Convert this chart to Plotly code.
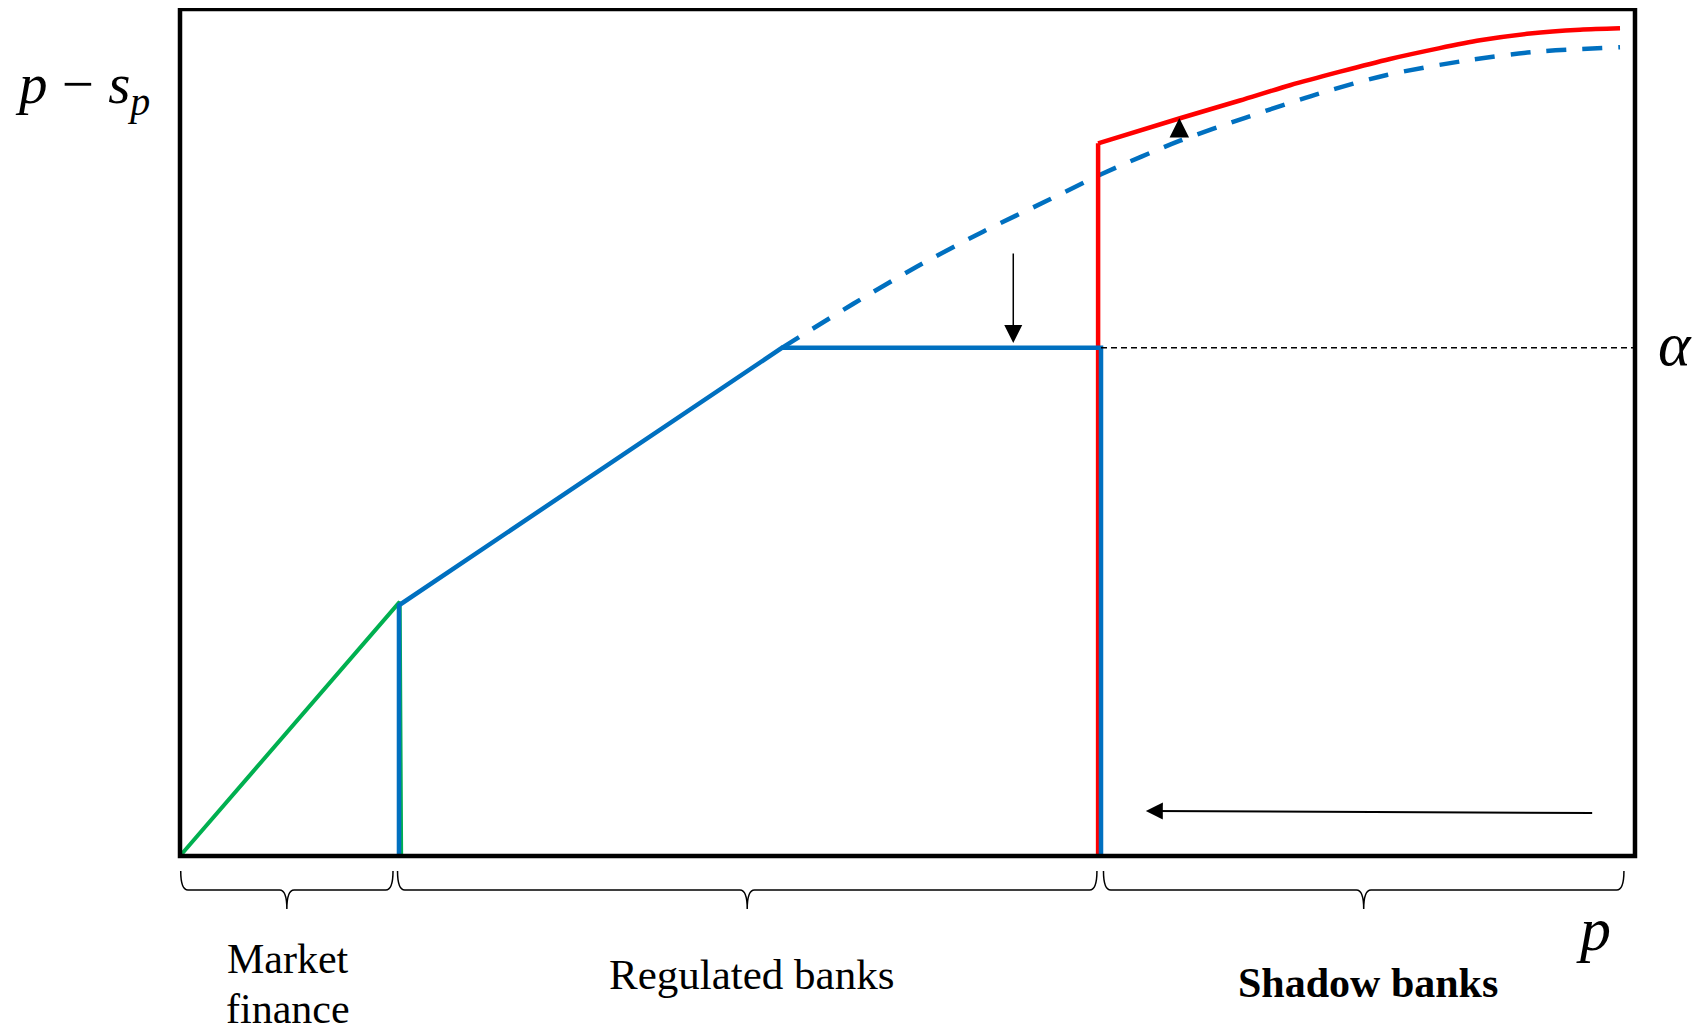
import plotly.graph_objects as go

# ---- data (arbitrary units: p on x, p - s_p on y; the frame spans 0..100) ----
market_x = [0, 15.1, 15.2]
market_y = [0, 30.0, 0]

regulated_x = [15.05, 15.05, 41.37, 63.3, 63.3]
regulated_y = [0, 29.6, 60.0, 60.0, 0]

unconstrained_x = [41.37, 46.25, 50.63, 55.19, 59.79, 63.35, 68.73, 73.31,
                   78.35, 82.94, 88.18, 93.24, 98.97]
unconstrained_y = [60.0, 65.17, 69.57, 73.71, 77.53, 80.52, 84.45, 87.21,
                   90.05, 92.21, 93.86, 94.96, 95.48]

shadow_vert_x = [63.1, 63.1]
shadow_vert_y = [0, 84.14]
shadow_x = [63.1, 68.73, 72.85, 76.29, 79.73, 83.16, 86.5, 89.35, 92.78, 96.22, 98.97]
shadow_y = [84.14, 87.1, 89.2, 91.0, 92.6, 94.1, 95.35, 96.3, 97.1, 97.55, 97.72]

alpha_level = 60.0
alpha_x = [63.3, 100]

segment_spans = [(0.05, 14.64), (14.95, 63.02), (63.47, 99.24)]
segment_labels = ["Market<br>finance", "Regulated banks", "Shadow banks"]

BLUE = "#0070C0"
RED = "#FF0000"
GREEN = "#00B050"
SERIF = "Liberation Serif, Times New Roman, serif"

fig = go.Figure()

fig.add_trace(go.Scatter(x=market_x, y=market_y, mode="lines",
                         line=dict(color=GREEN, width=4), hoverinfo="skip"))
fig.add_trace(go.Scatter(x=unconstrained_x, y=unconstrained_y, mode="lines",
                         line=dict(color=BLUE, width=4.5, dash="20px,16px",
                                   shape="spline", smoothing=0.8),
                         hoverinfo="skip"))
fig.add_trace(go.Scatter(x=shadow_vert_x, y=shadow_vert_y, mode="lines",
                         line=dict(color=RED, width=4.5), hoverinfo="skip"))
fig.add_trace(go.Scatter(x=shadow_x, y=shadow_y, mode="lines",
                         line=dict(color=RED, width=4.5, shape="spline", smoothing=0.8),
                         hoverinfo="skip"))
fig.add_trace(go.Scatter(x=regulated_x, y=regulated_y, mode="lines",
                         line=dict(color=BLUE, width=4.5), hoverinfo="skip"))
fig.add_trace(go.Scatter(x=alpha_x, y=[alpha_level, alpha_level], mode="lines",
                         line=dict(color="black", width=1.4, dash="6px,4px"), hoverinfo="skip"))

shapes = [dict(type="rect", xref="x", yref="y", x0=0, y0=0, x1=100, y1=100,
               line=dict(color="black", width=4.5), layer="above")]

# braces below the axis
yt, ym, yb, r = -1.77, -4.01, -6.26, 0.5
for x0, x1 in segment_spans:
    xc = (x0 + x1) / 2
    path = (f"M{x0},{yt} Q{x0},{ym} {x0+r},{ym} L{xc-r},{ym} Q{xc},{ym} {xc},{yb} "
            f"Q{xc},{ym} {xc+r},{ym} L{x1-r},{ym} Q{x1},{ym} {x1},{yt}")
    shapes.append(dict(type="path", xref="x", yref="y", path=path,
                       line=dict(color="black", width=1.5)))

ann = []
def txt(x, y, s, size):
    ann.append(dict(x=x, y=y, xref="x", yref="y", text=s, showarrow=False,
                    xanchor="center", yanchor="middle",
                    font=dict(family=SERIF, size=size, color="black")))

centers = [(a + b) / 2 for a, b in segment_spans]
mk = segment_labels[0].split("<br>")
txt(centers[0] + 0.1, -12.14, mk[0], 42)
txt(centers[0] + 0.1, -18.04, mk[1], 42)
txt(centers[1] + 0.3, -13.96, segment_labels[1], 43)
txt(centers[2] + 0.3, -14.97, "<b>" + segment_labels[2] + "</b>", 42)
txt(97.18, -8.62, "<i>p</i>", 62)
txt(102.75, 60.45, "<i>α</i>", 62)
txt(-6.7, 90.7, "<i>p</i> − <i>s</i><sub><i>p</i></sub>", 57)

def arrow(x, y, ax, ay, w=1.5, size=2.0):
    ann.append(dict(x=x, y=y, ax=ax, ay=ay, xref="x", yref="y", axref="x", ayref="y",
                    text="", showarrow=True, arrowhead=2, arrowsize=size, arrowwidth=w,
                    arrowcolor="black", standoff=0, startstandoff=0))

arrow(57.27, 60.57, 57.27, 71.31, size=2.4)
arrow(68.68, 87.13, 68.68, 84.7, size=2.6)
arrow(66.38, 5.31, 97.16, 5.08, w=2, size=1.7)

# page body has an 8px margin: figure is sized so it fills the window exactly
fig.update_layout(
    width=1695, height=1024,
    margin=dict(l=0, r=0, t=0, b=0, pad=0),
    paper_bgcolor="white", plot_bgcolor="white",
    showlegend=False,
    xaxis=dict(range=[-11.821, 104.674], visible=False, fixedrange=True),
    yaxis=dict(range=[-20.779, 100.118], visible=False, fixedrange=True),
    shapes=shapes, annotations=ann,
)

fig.write_html("out.html")
